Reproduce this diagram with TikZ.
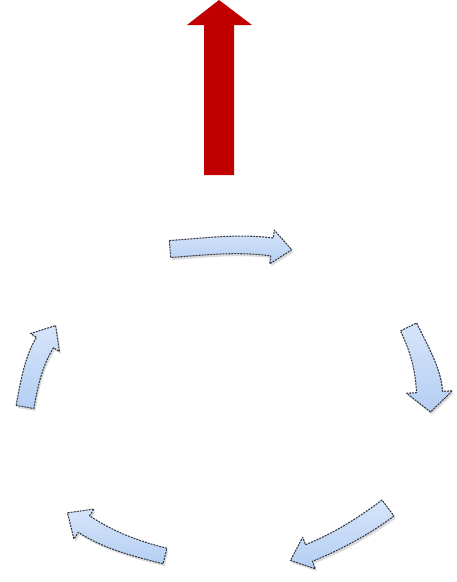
\documentclass[tikz,border=0pt]{standalone}
\usetikzlibrary{calc}
\definecolor{redarr}{HTML}{C00000}
\definecolor{cycfillA}{HTML}{D6E5FA}
\definecolor{cycfillB}{HTML}{B4CEF3}
\definecolor{cycline}{HTML}{33383F}
\tikzset{
  cycbody/.style={draw=cycline, line width=1.05pt, dash pattern=on 2pt off 1pt,
    top color=cycfillA, bottom color=cycfillB, line join=round},
  cycshadow/.style={fill=black, fill opacity=0.14},
  bigarrow/.style={fill=redarr}
}
% #1 style, #2 tail centre, #3 tail heading, #4 head-base centre, #5 head heading,
% #6 tail half width, #7 base half width, #8 head half width, #9 control length
\newcommand\cycarrow[9]{%
  \path[#1]
    ($(#2)+(#3-90:#6)$)
    .. controls ($(#2)+(#3-90:#6)+(#3:#9)$) and ($(#4)+(#5-90:#7)+(#5+180:#9)$)
    .. ($(#4)+(#5-90:#7)$)
    -- ($(#4)+(#5-90:#8)$) -- ($(#4)+(#5:20)$) -- ($(#4)+(#5+90:#8)$) -- ($(#4)+(#5+90:#7)$)
    .. controls ($(#4)+(#5+90:#7)+(#5+180:#9)$) and ($(#2)+(#3+90:#6)+(#3:#9)$)
    .. ($(#2)+(#3+90:#6)$) -- cycle;}
\newcommand\cycall[1]{%
  \cycarrow{#1}{170,249}{-4}{272,247}{8}{8.5}{9}{17}{34}
  \cycarrow{#1}{408.5,327}{64}{429.5,392}{87}{9}{13}{23}{23}
  \cycarrow{#1}{388,508}{143}{309,553}{158}{10}{9}{17}{30}
  \cycarrow{#1}{165,556}{194}{84,524}{214}{8}{10}{18}{29}
  \cycarrow{#1}{25,407}{-80}{45,342.5}{-58}{9}{10}{17}{22}
}
\begin{document}
\begin{tikzpicture}[x=1pt,y=-1pt]
\useasboundingbox (0,0) rectangle (457,582);
% red arrow
\fill[bigarrow] (219,0) -- (252,25) -- (234,25) -- (234,175) -- (204,175) -- (204,25) -- (187,25) -- cycle;
% shadows
\begin{scope}[transform canvas={shift={(1.5pt,-2.5pt)}}]
\cycall{cycshadow}
\end{scope}
% arrows
\cycall{cycbody}
\end{tikzpicture}
\end{document}
